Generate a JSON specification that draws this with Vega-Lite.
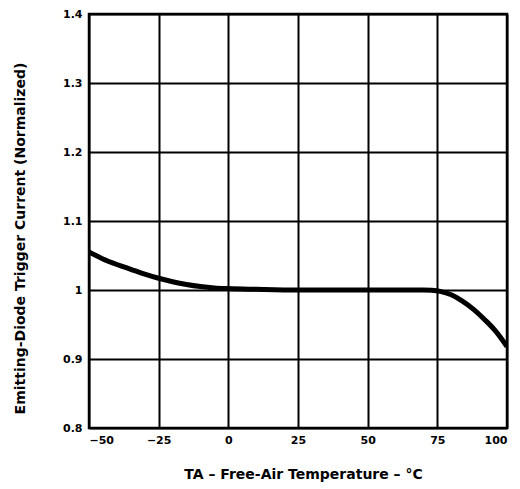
{
  "$schema": "https://vega.github.io/schema/vega-lite/v6.json",
  "autosize": {"type": "none"},
  "padding": {"left": 89, "top": 14, "right": 13, "bottom": 61},
  "width": 418,
  "height": 414,
  "background": "white",
  "config": {
    "view": {"stroke": "black", "strokeWidth": 2.5},
    "font": "DejaVu Sans"
  },
  "data": {"values": [
    {"t": -50, "v": 1.055}, {"t": -45, "v": 1.045}, {"t": -40, "v": 1.037},
    {"t": -35, "v": 1.030}, {"t": -30, "v": 1.023}, {"t": -25, "v": 1.017},
    {"t": -20, "v": 1.012}, {"t": -15, "v": 1.008}, {"t": -10, "v": 1.005},
    {"t": -5, "v": 1.003}, {"t": 0, "v": 1.002}, {"t": 10, "v": 1.001},
    {"t": 25, "v": 1.0}, {"t": 50, "v": 1.0}, {"t": 70, "v": 1.0},
    {"t": 73, "v": 0.9995}, {"t": 76, "v": 0.998}, {"t": 80, "v": 0.993},
    {"t": 84, "v": 0.984}, {"t": 88, "v": 0.972}, {"t": 92, "v": 0.957},
    {"t": 96, "v": 0.940}, {"t": 100, "v": 0.918}
  ]},
  "mark": {"type": "line", "color": "black", "strokeWidth": 5, "interpolate": "monotone", "clip": true},
  "encoding": {
    "x": {
      "field": "t", "type": "quantitative",
      "scale": {"domain": [-50, 100], "nice": false, "zero": false},
      "axis": {
        "values": [-50, -25, 0, 25, 50, 75, 100],
        "labelExpr": "datum.value < 0 ? '−' + abs(datum.value) : datum.label",
        "grid": true, "gridColor": "black", "gridOpacity": 1, "gridWidth": 2,
        "domain": false, "ticks": false,
        "labelFontSize": 11, "labelFontWeight": "bold", "labelColor": "black", "labelPadding": 6,
        "title": "TA – Free-Air Temperature – °C",
        "titleFontSize": 14, "titleFontWeight": "bold", "titleColor": "black",
        "titleX": 214, "titleY": 46, "titleBaseline": "middle", "titleAlign": "center"
      }
    },
    "y": {
      "field": "v", "type": "quantitative",
      "scale": {"domain": [0.8, 1.4], "nice": false, "zero": false},
      "axis": {
        "values": [0.8, 0.9, 1.0, 1.1, 1.2, 1.3, 1.4],
        "labelExpr": "datum.value == 1 ? '1' : format(datum.value, '.1f')",
        "grid": true, "gridColor": "black", "gridOpacity": 1, "gridWidth": 2,
        "domain": false, "ticks": false,
        "labelFontSize": 11, "labelFontWeight": "bold", "labelColor": "black", "labelPadding": 7,
        "title": "Emitting-Diode Trigger Current (Normalized)",
        "titleFontSize": 14, "titleFontWeight": "bold", "titleColor": "black",
        "titleX": -69, "titleY": 224, "titleAngle": 270, "titleBaseline": "middle", "titleAlign": "center"
      }
    }
  }
}
